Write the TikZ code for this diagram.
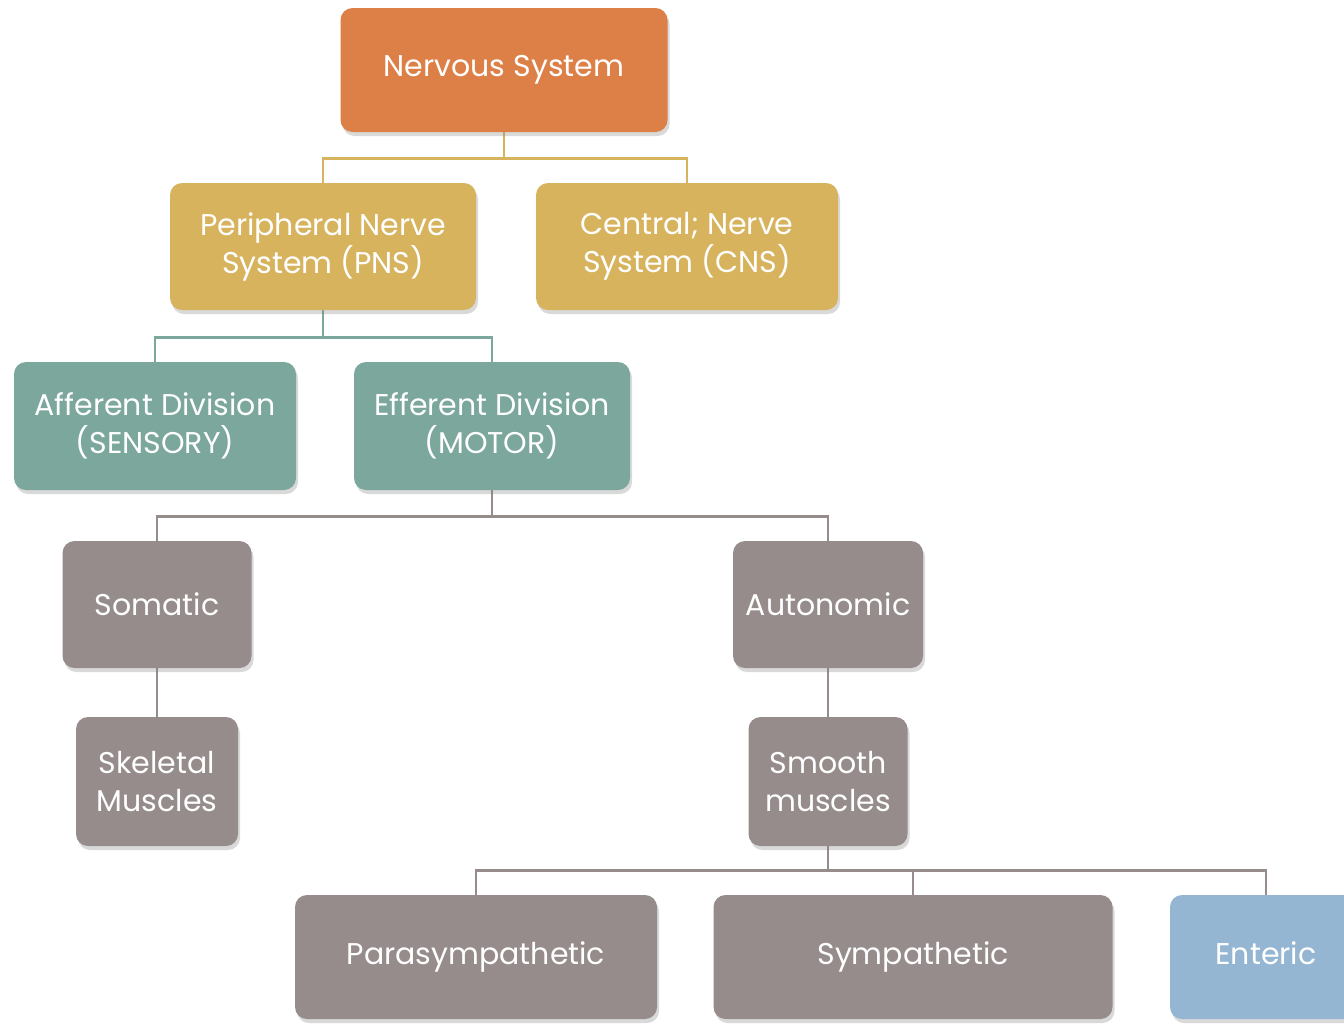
\documentclass[tikz,border=0pt]{standalone}
\usepackage{fontspec}
\setmainfont{Poppins}
\usetikzlibrary{shadows,backgrounds}
\definecolor{orng}{HTML}{DD8047}
\definecolor{gold}{HTML}{D7B35E}
\definecolor{teal}{HTML}{7BA79D}
\definecolor{grayb}{HTML}{968C8C}
\definecolor{blueb}{HTML}{94B6D2}
\tikzset{
  box/.style={rounded corners=12pt, text=white, align=center, inner sep=0pt,
    font=\fontsize{30}{38}\selectfont,
    drop shadow={opacity=0.3, shadow xshift=2pt, shadow yshift=-4pt}},
  conn/.style={line width=2.8pt}
}
\begin{document}
\begin{tikzpicture}[x=1pt,y=-1pt]
\useasboundingbox (0,0) rectangle (1344,1023);
\clip (0,0) rectangle (1344,1023);
\node[box, fill=orng, minimum width=327pt, minimum height=124pt] (ns) at (504,70) {Nervous System};
\node[box, fill=gold, minimum width=306pt, minimum height=127pt] (pns) at (323,246.5) {Peripheral Nerve\\System (PNS)};
\node[box, fill=gold, minimum width=302pt, minimum height=127pt] (cns) at (687,246.5) {Central; Nerve\\System (CNS)};
\node[box, fill=teal, minimum width=282pt, minimum height=128pt] (aff) at (155,426) {Afferent Division\\(SENSORY)};
\node[box, fill=teal, minimum width=276pt, minimum height=128pt] (eff) at (492,426) {Efferent Division\\(MOTOR)};
\node[box, fill=grayb, minimum width=189pt, minimum height=127pt] (som) at (157,604.5) {Somatic};
\node[box, fill=grayb, minimum width=190pt, minimum height=127pt] (aut) at (828,604.5) {Autonomic};
\node[box, fill=grayb, minimum width=162pt, minimum height=129pt] (ske) at (157,781.5) {Skeletal\\Muscles};
\node[box, fill=grayb, minimum width=159pt, minimum height=129pt] (smo) at (828,781.5) {Smooth\\muscles};
\node[box, fill=grayb, minimum width=362pt, minimum height=124pt] (para) at (476,957) {Parasympathetic};
\node[box, fill=grayb, minimum width=399pt, minimum height=124pt] (symp) at (913,957) {Sympathetic};
\node[box, fill=blueb, minimum width=192pt, minimum height=124pt] (ent) at (1266,957) {Enteric\vphantom{y}};
\begin{scope}[on background layer]
\draw[conn, gold] (ns.south) -- ++(0,26) coordinate (j1);
\draw[conn, gold] (j1) -| (pns.north);
\draw[conn, gold] (j1) -| (cns.north);
\draw[conn, teal] (pns.south) -- ++(0,27) coordinate (j2);
\draw[conn, teal] (j2) -| (aff.north);
\draw[conn, teal] (j2) -| (eff.north);
\draw[conn, grayb] (eff.south) -- ++(0,26) coordinate (j3);
\draw[conn, grayb] (j3) -| (som.north);
\draw[conn, grayb] (j3) -| (aut.north);
\draw[conn, grayb] (som.south) -- (ske.north);
\draw[conn, grayb] (aut.south) -- (smo.north);
\draw[conn, grayb] (smo.south) -- ++(0,24) coordinate (j4);
\draw[conn, grayb] (j4) -| (para.north);
\draw[conn, grayb] (j4) -| (symp.north);
\draw[conn, grayb] (j4) -| (ent.north);
\end{scope}
\end{tikzpicture}
\end{document}
